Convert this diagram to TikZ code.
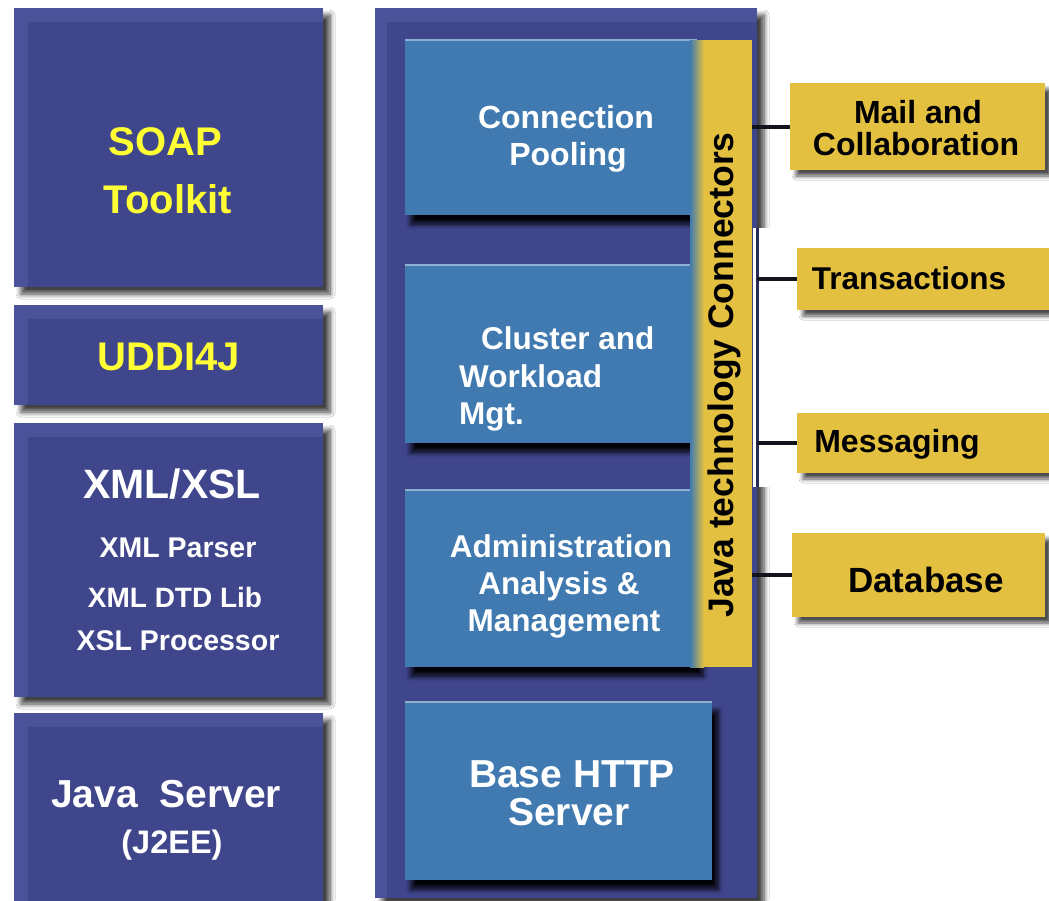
\documentclass[tikz,border=0pt]{standalone}
\usepackage{fontspec}
\setmainfont{Liberation Sans}
\usetikzlibrary{shadows,shadows.blur}
\definecolor{navy}{RGB}{64,70,140}
\definecolor{navylt}{RGB}{75,82,153}
\definecolor{steel}{RGB}{64,122,176}
\definecolor{gold}{RGB}{227,192,64}
\definecolor{lemon}{RGB}{255,255,51}
\definecolor{ink}{RGB}{20,20,30}
\begin{document}
\begin{tikzpicture}[x=1pt,y=-1pt,
  navybox/.style={fill=navy, draw=none, inner sep=0pt, outer sep=0pt,
    blur shadow={shadow xshift=7pt, shadow yshift=-7pt, shadow blur radius=5pt, shadow blur steps=8, shadow opacity=75}},
  steelbox/.style={fill=steel, draw=none, inner sep=0pt, outer sep=0pt,
    blur shadow={shadow xshift=6pt, shadow yshift=-9pt, shadow blur radius=5pt, shadow blur steps=8, shadow opacity=95}},
  goldbox/.style={fill=gold, draw=none, inner sep=0pt, outer sep=0pt,
    blur shadow={shadow xshift=6pt, shadow yshift=-6pt, shadow blur radius=4pt, shadow blur steps=8, shadow opacity=70}},
  txt/.style={anchor=base, inner sep=0pt, font=\bfseries},
  conn/.style={draw=ink, line width=4pt},
  spine/.style={draw=navy!60!black, line width=3pt}]
\useasboundingbox (0,0) rectangle (1049,900);
\fill[white] (0,0) rectangle (1049,900);

% left column
\node[navybox, minimum width=309pt, minimum height=279pt] (soap) at (168.5,147.5) {};
\node[navybox, minimum width=309pt, minimum height=100pt] (uddi) at (168.5,355) {};
\node[navybox, minimum width=309pt, minimum height=274pt] (xml) at (168.5,560) {};
\node[navybox, minimum width=309pt, minimum height=189pt] (jsrv) at (168.5,807.5) {};
\foreach \b in {soap,uddi,xml,jsrv}{
  \fill[navylt] (\b.north west) rectangle ([yshift=-14pt]\b.north east);
  \fill[navylt] (\b.north west) rectangle ([xshift=14pt]\b.south west);
  \fill[navy, rounded corners=6pt] ([xshift=16pt,yshift=-20pt]\b.north west) rectangle (\b.south east);
  \fill[navy] ([xshift=-10pt,yshift=-20pt]\b.north east) rectangle (\b.south east);
  \fill[navy] ([xshift=16pt,yshift=10pt]\b.south west) rectangle (\b.south east);
}

\node[txt, text=lemon, font=\fontsize{40}{48}\selectfont\bfseries] (tsoap) at (165,155) {SOAP};
\node[txt, text=lemon, font=\fontsize{40}{48}\selectfont\bfseries] (ttool) at (168,213) {Toolkit};
\node[txt, text=lemon, font=\fontsize{40}{48}\selectfont\bfseries] (tuddi) at (169,370) {UDDI4J};
\node[txt, text=white, font=\fontsize{41}{48}\selectfont\bfseries] (txsl) at (172,498) {XML/XSL};
\node[txt, text=white, font=\fontsize{28.5}{32}\selectfont\bfseries] (tpar) at (178,557) {XML Parser};
\node[txt, text=white, font=\fontsize{28}{32}\selectfont\bfseries] (tdtd) at (175,607) {XML DTD Lib};
\node[txt, text=white, font=\fontsize{28.5}{32}\selectfont\bfseries] (tproc) at (178,650) {XSL Processor};
\node[txt, text=white, font=\fontsize{39}{44}\selectfont\bfseries] (tjs) at (166,807) {Java\ \ Server};
\node[txt, text=white, font=\fontsize{32.5}{38}\selectfont\bfseries] (tj2) at (172,853) {(J2EE)};

% middle panel
\node[navybox, minimum width=382pt, minimum height=890pt] (panel) at (566,453) {};
\fill[navylt] (panel.north west) rectangle ([yshift=-14pt]panel.north east);
\fill[navylt] (panel.north west) rectangle ([xshift=12pt]panel.south west);
\fill[navy, rounded corners=6pt] ([xshift=14pt,yshift=-18pt]panel.north west) rectangle (panel.south east);
\fill[navy] ([xshift=-10pt,yshift=-18pt]panel.north east) rectangle (panel.south east);

\node[steelbox, minimum width=292pt, minimum height=175pt] (cp) at (551,127.5) {};
\node[steelbox, minimum width=292pt, minimum height=178pt] (cw) at (551,354) {};
\node[steelbox, minimum width=292pt, minimum height=177pt] (adm) at (551,578.5) {};
\node[steelbox, minimum width=307pt, minimum height=178pt] (http) at (558.5,791) {};
\foreach \b in {cp,cw,adm,http}{
  \draw[steel!60!white, line width=1.5pt] (\b.north west) -- (\b.north east);
}

\node[txt, text=white, font=\fontsize{32}{38}\selectfont\bfseries] (tcon) at (566,128) {Connection};
\node[txt, text=white, font=\fontsize{32}{38}\selectfont\bfseries] (tpool) at (568,165) {Pooling};
\node[txt, anchor=base west, text=white, font=\fontsize{31.5}{38}\selectfont\bfseries] (tclu) at (481,349) {Cluster and};
\node[txt, anchor=base west, text=white, font=\fontsize{31.5}{38}\selectfont\bfseries] (twork) at (459,387) {Workload};
\node[txt, anchor=base west, text=white, font=\fontsize{31.5}{38}\selectfont\bfseries] (tmgt) at (459,424) {Mgt.};
\node[txt, text=white, font=\fontsize{31.5}{38}\selectfont\bfseries] (tadm) at (561,557) {Administration};
\node[txt, text=white, font=\fontsize{31.5}{38}\selectfont\bfseries] (tana) at (559,594) {Analysis \&};
\node[txt, text=white, font=\fontsize{31.5}{38}\selectfont\bfseries] (tman) at (564,631) {Management};
\node[txt, text=white, font=\fontsize{39}{44}\selectfont\bfseries] (tbase) at (572,787) {Base HTTP};
\node[txt, text=white, font=\fontsize{39}{44}\selectfont\bfseries] (tserv) at (569,825) {Server};

% connectors bar
\node[fill=gold, draw=none, inner sep=0pt, outer sep=0pt, minimum width=56pt, minimum height=627pt] (jbar) at (724,353.5) {};
\shade[left color=steel, right color=gold] ([xshift=-6pt]jbar.north west) rectangle ([xshift=8pt]jbar.south west);
\node[rotate=90, inner sep=0pt, text=black, font=\fontsize{35.5}{40}\selectfont\bfseries] (tjtc) at (724,375) {Java technology Connectors};

% white patch and spine
\fill[white] (753,228) rectangle (797,487);
\coordinate (spT) at (757,228);
\coordinate (spB) at (757,487);
\draw[spine] (spT) -- (spB);

% right boxes
\node[goldbox, minimum width=255pt, minimum height=87pt] (mail) at (917.5,126.5) {};
\node[goldbox, minimum width=252pt, minimum height=62pt] (trans) at (923,279) {};
\node[goldbox, minimum width=252pt, minimum height=60pt] (msg) at (923,443) {};
\node[goldbox, minimum width=253pt, minimum height=84pt] (db) at (918.5,575) {};

\node[txt, text=black, font=\fontsize{32}{38}\selectfont\bfseries] (tmail) at (918,123) {Mail and};
\node[txt, text=black, font=\fontsize{32}{38}\selectfont\bfseries] (tcol) at (916,155) {Collaboration};
\node[txt, text=black, font=\fontsize{31.5}{38}\selectfont\bfseries] (ttr) at (909,289) {Transactions};
\node[txt, text=black, font=\fontsize{32}{38}\selectfont\bfseries] (tmsg) at (897,452) {Messaging};
\node[txt, text=black, font=\fontsize{35}{40}\selectfont\bfseries] (tdb) at (926,592) {Database};

\draw[conn] (jbar.east |- mail.west) -- (mail.west);
\draw[conn] (jbar.east |- db.west) -- (db.west);
\draw[conn] (spT |- trans.west) -- (trans.west);
\draw[conn] (spT |- msg.west) -- (msg.west);
\end{tikzpicture}
\end{document}
